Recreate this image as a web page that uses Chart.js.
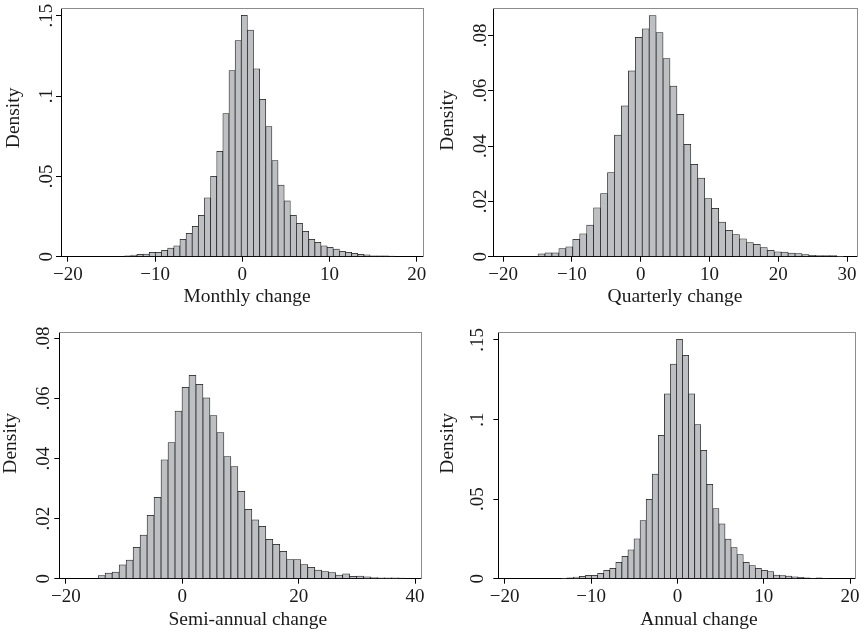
<!DOCTYPE html>
<html>
<head>
<meta charset="utf-8">
<script src="https://cdn.jsdelivr.net/npm/chart.js@4/dist/chart.umd.min.js"></script>
<style>
  body { margin: 0; background: #fff; }
  #wrap { position: relative; width: 864px; height: 633px; }
  #wrap canvas { position: absolute; }
</style>
</head>
<body>
<div id="wrap">
  <canvas id="monthly" width="432" height="310" style="left:0;top:0"></canvas>
  <canvas id="quarterly" width="432" height="310" style="left:432px;top:0"></canvas>
  <canvas id="semiannual" width="432" height="323" style="left:0;top:310px"></canvas>
  <canvas id="annual" width="432" height="323" style="left:432px;top:310px"></canvas>
</div>
<script>
// histogram densities, 44 bins each
const monthlyDensity = [
  0.0006, 0.001, 0.0015, 0.0017, 0.0027, 0.0027, 0.0039, 0.0054, 0.0068, 0.0108,
  0.0145, 0.0189, 0.0257, 0.0367, 0.05, 0.0656, 0.089, 0.1158, 0.1345, 0.1502,
  0.1411, 0.117, 0.098, 0.081, 0.0598, 0.0446, 0.0347, 0.0257, 0.0208, 0.0158,
  0.0108, 0.0089, 0.0068, 0.0058, 0.0048, 0.0033, 0.0027, 0.0021, 0.0015, 0.0012,
  0.0006, 0.0006, 0.0006, 0.0004
];
const quarterlyDensity = [
  0.001, 0.0014, 0.0014, 0.0029, 0.0036, 0.0063, 0.0083, 0.0114, 0.0177, 0.0228,
  0.0304, 0.044, 0.0545, 0.0672, 0.0793, 0.0824, 0.0872, 0.081, 0.0716, 0.0617,
  0.0515, 0.0406, 0.0334, 0.0284, 0.021, 0.0175, 0.0125, 0.0095, 0.008, 0.0065,
  0.0051, 0.0045, 0.0033, 0.0023, 0.0018, 0.0017, 0.0013, 0.0011, 0.0008, 0.0005,
  0.0004, 0.0004, 0.0004, 0.0001
];
const semiannualDensity = [
  0.001, 0.0019, 0.0022, 0.0046, 0.0062, 0.0104, 0.0145, 0.0211, 0.0271, 0.0396,
  0.0453, 0.0558, 0.0637, 0.0677, 0.0647, 0.0602, 0.0543, 0.0486, 0.0406, 0.0373,
  0.0291, 0.0231, 0.0196, 0.0174, 0.0131, 0.0114, 0.0091, 0.0064, 0.0064, 0.0047,
  0.0038, 0.0029, 0.0024, 0.002, 0.0012, 0.0016, 0.0008, 0.0009, 0.0006, 0.0004,
  0.0003, 0.0003, 0.0003, 0.0002
];
const annualDensity = [
  0.0002, 0.0006, 0.001, 0.0015, 0.0021, 0.0021, 0.0034, 0.0052, 0.0065, 0.0103,
  0.014, 0.0182, 0.0251, 0.0365, 0.0499, 0.0658, 0.0901, 0.1161, 0.1349, 0.1504,
  0.1404, 0.1161, 0.0968, 0.0807, 0.0593, 0.044, 0.0344, 0.0249, 0.0195, 0.0151,
  0.0103, 0.0082, 0.0065, 0.0052, 0.0044, 0.0022, 0.002, 0.0017, 0.0011, 0.0009,
  0.0005, 0.0003, 0.0006, 0.0003
];

// bin start and width of each histogram
const monthlyBins = { start: -13.48, width: 0.703 };
const quarterlyBins = { start: -14.93, width: 1.01 };
const semiannualBins = { start: -14.45, width: 1.2 };
const annualBins = { start: -13.46, width: 0.703 };

// tick values and labels
const ticks20 = [-20, -10, 0, 10, 20];
const labels20 = ['\u221220', '\u221210', '0', '10', '20'];
const ticks30 = [-20, -10, 0, 10, 20, 30];
const labels30 = ['\u221220', '\u221210', '0', '10', '20', '30'];
const ticks40 = [-20, 0, 20, 40];
const labels40 = ['\u221220', '0', '20', '40'];
const ticks15 = [0, 0.05, 0.1, 0.15];
const labels15 = ['0', '.05', '.1', '.15'];
const ticks08 = [0, 0.02, 0.04, 0.06, 0.08];
const labels08 = ['0', '.02', '.04', '.06', '.08'];

const FONT = 'Liberation Serif';
const TEXT = '#1a1a1a';

function histogram(id, o) {
  const centers = o.density.map((d, i) => o.bins.start + (i + 0.5) * o.bins.width);
  const tickFont = { family: FONT, size: 19, lineHeight: 1 };
  const titleFont = { family: FONT, size: 19.5, lineHeight: 1 };
  const frame = {
    type: 'linear',
    grid: { display: false },
    border: { display: true, color: '#8c8c8c', width: 1 },
    ticks: { display: false }
  };

  new Chart(document.getElementById(id), {
    type: 'bar',
    data: {
      datasets: [{
        data: centers.map((x, i) => ({ x: x, y: o.density[i] })),
        backgroundColor: 'rgb(190,191,195)',
        borderColor: '#1c1c1c',
        borderWidth: 0.75,
        barPercentage: 1,
        categoryPercentage: 1
      }]
    },
    options: {
      responsive: false,
      animation: false,
      events: [],
      layout: { padding: { left: 0, bottom: 0, top: o.area.top, right: o.w - o.area.right } },
      plugins: { legend: { display: false }, tooltip: { enabled: false } },
      scales: {
        x: {
          type: 'linear',
          min: o.xMin,
          max: o.xMax,
          offset: false,
          afterBuildTicks: s => { s.ticks = o.xTicks.map(v => ({ value: v })); },
          afterFit: s => { s.height = o.h - o.area.bottom; },
          grid: { offset: false, drawOnChartArea: false, drawTicks: true, tickLength: 5, color: '#000', lineWidth: 1 },
          border: { color: '#000', width: 1 },
          ticks: {
            autoSkip: false, maxRotation: 0, padding: o.xPad, color: TEXT, font: tickFont,
            callback: (v, i) => o.xLabels[i]
          },
          title: {
            display: true, text: ' '.repeat(o.xShift) + o.xTitle, color: TEXT, font: titleFont,
            padding: { top: 0, bottom: o.xTitlePad }
          }
        },
        y: {
          min: 0,
          max: o.yMax,
          afterBuildTicks: s => { s.ticks = o.yTicks.map(v => ({ value: v })); },
          afterFit: s => { s.width = o.area.left; },
          grid: { drawOnChartArea: false, drawTicks: true, tickLength: 5, color: '#000', lineWidth: 1 },
          border: { color: '#000', width: 1 },
          ticks: {
            autoSkip: false, minRotation: 90, maxRotation: 90, crossAlign: 'center',
            padding: o.yPad, color: TEXT, font: tickFont,
            callback: (v, i) => o.yLabels[i]
          },
          title: {
            display: true, text: ' '.repeat(o.yShift) + 'Density', color: TEXT, font: titleFont,
            padding: { top: o.yTitlePad, bottom: 0 }
          }
        },
        x2: Object.assign({ position: 'top', afterFit: s => { s.height = 0; } }, frame),
        y2: Object.assign({ position: 'right', afterFit: s => { s.width = 0; } }, frame)
      }
    }
  });
}

histogram('monthly', {
  density: monthlyDensity, bins: monthlyBins, xTitle: 'Monthly change',
  xTicks: ticks20, xLabels: labels20, yTicks: ticks15, yLabels: labels15,
  w: 432, h: 310, area: { left: 61, right: 423.3, top: 8.3, bottom: 256.7 },
  xMin: -20.78, xMax: 20.74, yMax: 0.1546,
  xPad: 3.8, xTitlePad: 3.25, xShift: 2, yPad: -3.1, yTitlePad: 4.35, yShift: 6
});

histogram('quarterly', {
  density: quarterlyDensity, bins: quarterlyBins, xTitle: 'Quarterly change',
  xTicks: ticks30, xLabels: labels30, yTicks: ticks08, yLabels: labels08,
  w: 432, h: 310, area: { left: 61, right: 425, top: 8.3, bottom: 256.7 },
  xMin: -21.47, xMax: 31.44, yMax: 0.0898,
  xPad: 3.8, xTitlePad: 3.25, xShift: 0, yPad: -5.1, yTitlePad: 5.95, yShift: 5
});

histogram('semiannual', {
  density: semiannualDensity, bins: semiannualBins, xTitle: 'Semi-annual change',
  xTicks: ticks40, xLabels: labels40, yTicks: ticks08, yLabels: labels08,
  w: 432, h: 323, area: { left: 59.3, right: 421.7, top: 22.3, bottom: 268.7 },
  xMin: -21.13, xMax: 41.13, yMax: 0.082,
  xPad: 4.3, xTitlePad: 2.95, xShift: 3, yPad: -1.8, yTitlePad: 0.95, yShift: 5
});

histogram('annual', {
  density: annualDensity, bins: annualBins, xTitle: 'Annual change',
  xTicks: ticks20, xLabels: labels20, yTicks: ticks15, yLabels: labels15,
  w: 432, h: 323, area: { left: 66.3, right: 424.3, top: 22.3, bottom: 268.7 },
  xMin: -20.74, xMax: 20.65, yMax: 0.1548,
  xPad: 4.3, xTitlePad: 2.95, xShift: 9, yPad: 3.2, yTitlePad: 5.95, yShift: 5
});
</script>
</body>
</html>
